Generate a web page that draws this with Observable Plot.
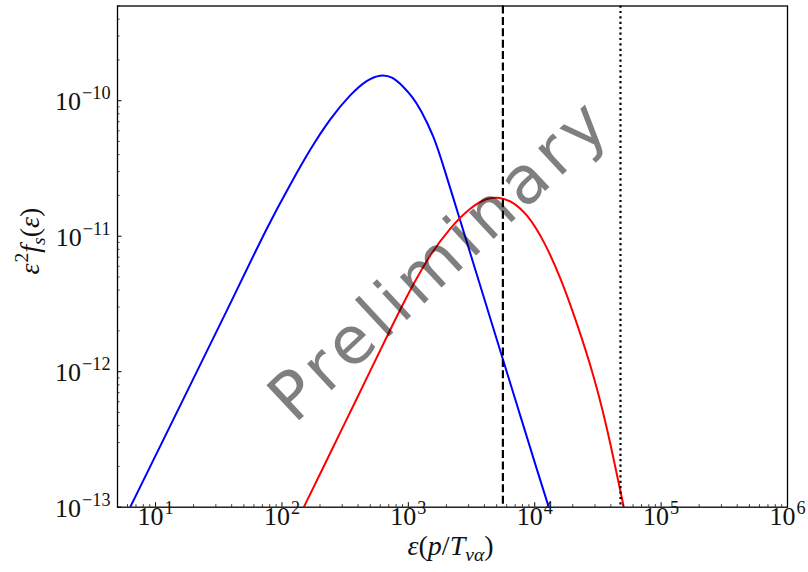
<!DOCTYPE html>
<html>
<head>
<meta charset="utf-8">
<script src="https://cdn.jsdelivr.net/npm/d3@7"></script>
<script src="https://cdn.jsdelivr.net/npm/@observablehq/plot@0.6"></script>
<style>
  html, body { margin: 0; padding: 0; background: #fff; }
</style>
</head>
<body>
<div id="chart"></div>
<script>
// Spectrum of the first species (blue): energy in units of p/T and eps^2 f_s(eps)
const blueEps = [6.30, 21.2, 39.2, 78.7, 116.9, 168.3, 242.2, 348.7, 472.8, 602.4, 749.6, 920.9, 1073, 1248, 1591, 1909, 2508, 3104, 4207, 5691, 7719, 10460, 12925];
const blueVal = [1.0e-13, 1.0e-12, 3.20e-12, 1.24e-11, 2.43e-11, 4.44e-11, 7.45e-11, 1.12e-10, 1.434e-10, 1.561e-10, 1.509e-10, 1.258e-10, 1.074e-10, 8.69e-11, 5.49e-11, 3.23e-11, 1.41e-11, 7.39e-12, 2.94e-12, 1.177e-12, 4.68e-13, 1.866e-13, 1.0e-13];

// Spectrum of the second species (red)
const redEps = [148.9, 214.5, 308.8, 502, 722.8, 1040, 1498, 2157, 3104, 4207, 5049, 6432, 8721, 11800, 16000, 21690, 29350, 36980, 44360, 50690];
const redVal = [1.0e-13, 2.006e-13, 4.03e-13, 1.021e-12, 2.066e-12, 4.08e-12, 7.42e-12, 1.165e-11, 1.637e-11, 1.92e-11, 1.94e-11, 1.85e-11, 1.463e-11, 9.30e-12, 4.98e-12, 2.257e-12, 9.38e-13, 4.01e-13, 1.803e-13, 1.0e-13];

// Reference energies: dashed and dotted vertical markers
const dashedEps = [5600];
const dottedEps = [4.77e4];

// Axis decades and labels
const xTickExps = [1, 2, 3, 4, 5, 6];
const yTickExps = [-13, -12, -11, -10];
const xDomain = [5, 1e6];
const yDomain = [1e-13, 5e-10];
const xLabel = "ε(p/T_{να})";
const yLabel = "ε^{2}f_{s}(ε)";
const watermark = "Preliminary";

const W = 808, H = 572;
const mL = 117, mR = 21, mT = 5.5, mB = 65.3;
const plotW = W - mL - mR, plotH = H - mT - mB;

const blue = blueEps.map((e, i) => ({e, v: blueVal[i]}));
const red = redEps.map((e, i) => ({e, v: redVal[i]}));

// Minor ticks at 2..9 times each decade, inside the domain
function minorTicks([lo, hi]) {
  const out = [];
  for (let k = Math.floor(Math.log10(lo)); k <= Math.ceil(Math.log10(hi)); k++) {
    for (let m = 2; m <= 9; m++) {
      const v = m * Math.pow(10, k);
      if (v >= lo * 0.999 && v <= hi * 1.001) out.push(v);
    }
  }
  return out;
}
const xMajor = xTickExps.map(k => Math.pow(10, k));
const yMajor = yTickExps.map(k => Math.pow(10, k));
const xMinor = minorTicks(xDomain);
const yMinor = minorTicks(yDomain);

const sup = k => "10^{" + String(k).replace("-", "\u2212") + "}";

const svg = Plot.plot({
  width: W,
  height: H,
  marginLeft: mL,
  marginRight: mR,
  marginTop: mT,
  marginBottom: mB,
  style: {fontFamily: "'Liberation Serif', serif", background: "#fff", overflow: "visible"},
  x: {type: "log", domain: xDomain, axis: null},
  y: {type: "log", domain: yDomain, axis: null},
  marks: [
    // curves
    Plot.line(blue, {x: "e", y: "v", stroke: "#0000ff", strokeWidth: 2, curve: "basis", clip: true}),
    Plot.line(red, {x: "e", y: "v", stroke: "#ff0000", strokeWidth: 2, curve: "basis", clip: true}),
    Plot.ruleX(dashedEps, {stroke: "black", strokeWidth: 2.2, strokeDasharray: "8,3.4"}),
    Plot.ruleX(dottedEps, {stroke: "black", strokeWidth: 2.2, strokeDasharray: "2.2,3.2"}),
    // inward ticks on the bottom and left edges
    Plot.tickX(xMajor, {x: d => d, insetTop: plotH - 4.5, stroke: "black", strokeWidth: 1}),
    Plot.tickX(xMinor, {x: d => d, insetTop: plotH - 2.5, stroke: "black", strokeWidth: 0.8}),
    Plot.tickY(yMajor, {y: d => d, insetRight: plotW - 4.5, stroke: "black", strokeWidth: 1}),
    Plot.tickY(yMinor, {y: d => d, insetRight: plotW - 2.5, stroke: "black", strokeWidth: 0.8}),
    Plot.frame({stroke: "black", strokeWidth: 1.3}),
    // tick labels
    Plot.text(xTickExps, {x: d => Math.pow(10, d), frameAnchor: "bottom", dy: 18, text: sup, fontSize: 26, textAnchor: "middle", fill: "#111"}),
    Plot.text(yTickExps, {y: d => Math.pow(10, d), frameAnchor: "left", dx: -7, dy: 1, text: sup, fontSize: 26, textAnchor: "end", fill: "#111"}),
    // axis titles
    Plot.text([xLabel], {frameAnchor: "bottom", dx: -2, dy: 48, fontSize: 28, fill: "#111"}),
    Plot.text([yLabel], {frameAnchor: "left", dx: -87, dy: 18, rotate: -90, fontSize: 28, fill: "#111"}),
    // watermark over the plot
    Plot.text([watermark], {frameAnchor: "middle", dx: -12, dy: 3, rotate: -43, fontSize: 66, fill: "black", fillOpacity: 0.5, fontFamily: "'DejaVu Sans', sans-serif"})
  ]
});

document.getElementById("chart").appendChild(svg);

// Rich text: ^{...} superscripts, _{...} subscripts, letters in math italic
function richText(t) {
  const src = t.textContent;
  const base = parseFloat(getComputedStyle(t).fontSize) || 16;
  t.textContent = "";
  const re = /([\^_])\{([^}]*)\}|([^\^_]+)/g;
  let m, offset = 0;
  while ((m = re.exec(src))) {
    const kind = m[3] ? 0 : (m[1] === "^" ? 1 : -1);
    const str = m[3] || m[2];
    const size = kind === 0 ? base : base * 0.7;
    const target = kind === 1 ? -0.42 * base : kind === -1 ? 0.2 * base : 0;
    [...str].forEach((ch, i) => {
      const ts = document.createElementNS("http://www.w3.org/2000/svg", "tspan");
      ts.textContent = ch;
      ts.setAttribute("font-size", size);
      if (/[A-Za-z\u03b1-\u03c9]/.test(ch)) ts.setAttribute("font-style", "italic");
      if (i === 0 && target !== offset) ts.setAttribute("dy", target - offset);
      if (i === 0 && kind === 1) ts.setAttribute("dx", 1);
      t.appendChild(ts);
    });
    offset = target;
  }
}
svg.querySelectorAll("text").forEach(t => {
  if (/[\^_]\{/.test(t.textContent)) richText(t);
  if (t.textContent === watermark) t.setAttribute("letter-spacing", "6");
});
</script>
</body>
</html>
